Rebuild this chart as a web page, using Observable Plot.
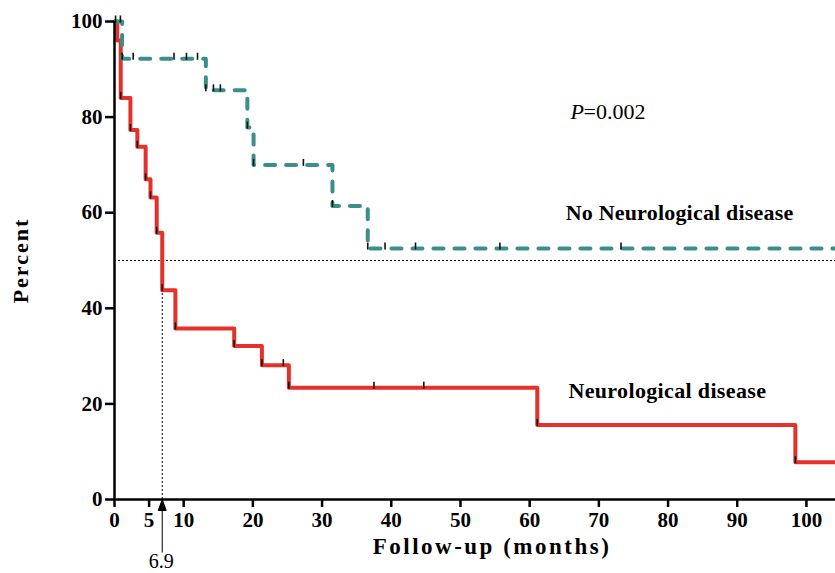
<!DOCTYPE html>
<html>
<head>
<meta charset="utf-8">
<script src="https://cdn.jsdelivr.net/npm/d3@7"></script>
<script src="https://cdn.jsdelivr.net/npm/@observablehq/plot@0.6"></script>
<style>
  html, body { margin: 0; padding: 0; background: #fff; }
</style>
</head>
<body>
<div id="chart"></div>
<script>
// ---- data ----
const neuroTimes = [0, 0.4, 0.9, 2.3, 3.3, 4.5, 5.2, 6.1, 6.9, 8.8, 17.3, 21.3, 25.2, 61.1, 98.4, 104.2];
const neuroSurv  = [100, 96, 84, 77.3, 73.8, 67.0, 63.2, 55.8, 43.8, 35.8, 32.1, 28.1, 23.4, 15.6, 7.8, 7.8];
const neuroCensor = [0.9, 2.3, 3.3, 4.5, 5.2, 6.1, 6.9, 8.8, 17.3, 21.3, 24.4, 25.2, 37.5, 44.7, 61.1, 98.4];

const noNeuroTimes = [0, 1.1, 13.2, 19.2, 20.1, 31.5, 36.6, 104.2];
const noNeuroSurv  = [100, 92.2, 85.6, 77.8, 70.0, 61.4, 52.5, 52.5];
const noNeuroCensor = [0.15, 0.85, 1.1, 2.7, 8.6, 10.4, 12.0, 13.2, 14.3, 15.3, 19.2, 20.1, 27.3, 31.5, 36.6, 39.1, 43.5, 55.7, 73.2];

const xTicks = [0, 5, 10, 20, 30, 40, 50, 60, 70, 80, 90, 100];
const yTicks = [0, 20, 40, 60, 80, 100];
const xDomainMax = 104.2;
const medianTime = 6.9;
const medianLevel = 50;
const pValue = "0.002";
const labelNo = "No Neurological disease";
const labelNeuro = "Neurological disease";
const xLabel = "Follow-up (months)";
const yLabel = "Percent";

// ---- build tables ----
const toRows = (times, surv) => times.map((t, i) => ({t, s: surv[i]}));
const survAt = (times, surv, t) => { let s = surv[0]; for (let i = 0; i < times.length; i++) if (times[i] <= t) s = surv[i]; return s; };
const neuro = toRows(neuroTimes, neuroSurv);
const noNeuro = toRows(noNeuroTimes, noNeuroSurv);
const censors = [
  ...neuroCensor.map(t => ({t, s: survAt(neuroTimes, neuroSurv, t)})),
  ...noNeuroCensor.map(t => ({t, s: survAt(noNeuroTimes, noNeuroSurv, t)}))
];

const tickSymbol = { draw(ctx, size) { const h = Math.sqrt(size / Math.PI); ctx.moveTo(0, 1); ctx.lineTo(0, -h); } };
const arrowSymbol = { draw(ctx, size) {
  ctx.moveTo(0, 53); ctx.lineTo(0, 0);
  ctx.moveTo(0, 0); ctx.lineTo(-4, 11); ctx.lineTo(4, 11); ctx.closePath();
} };

const red = "#e5312b";
const teal = "#3b8f8a";
const serif = "'Liberation Serif', 'Times New Roman', serif";

const chart = Plot.plot({
  width: 835,
  height: 573,
  marginLeft: 114,
  marginRight: 0,
  marginTop: 21,
  marginBottom: 74,
  style: {fontFamily: serif, fontSize: "20px", background: "#fff", color: "#000", overflow: "visible"},
  x: {domain: [0, xDomainMax]},
  y: {domain: [0, 100]},
  marks: [
    Plot.ruleY([medianLevel], {stroke: "#000", strokeWidth: 1, strokeDasharray: "2,2"}),
    Plot.ruleX([medianTime], {y1: 0, y2: medianLevel, stroke: "#000", strokeWidth: 1, strokeDasharray: "2,2"}),
    Plot.line(neuro, {x: "t", y: "s", curve: "step-after", stroke: red, strokeWidth: 4, strokeLinejoin: "round"}),
    Plot.line(noNeuro, {x: "t", y: "s", curve: "step-after", stroke: teal, strokeWidth: 4, strokeDasharray: "10,11", strokeLinecap: "round"}),
    Plot.dot(censors, {x: "t", y: "s", symbol: tickSymbol, r: 6, fill: "none", stroke: "#111", strokeWidth: 1.6}),
    Plot.axisX({ticks: xTicks, tickSize: 8, tickPadding: 5, fontSize: 21, fontWeight: "bold", strokeWidth: 2.5, label: null}),
    Plot.axisY({ticks: yTicks, tickSize: 9, tickPadding: 3, fontSize: 21, fontWeight: "bold", strokeWidth: 2.5, label: null}),
    Plot.ruleX([0], {stroke: "#000", strokeWidth: 2.5}),
    Plot.ruleY([0], {stroke: "#000", strokeWidth: 2.5}),
    Plot.dot([medianTime], {x: d => d, y: () => 0, symbol: arrowSymbol, r: 5, fill: "#000", stroke: "#000", strokeWidth: 1}),
    Plot.text([String(medianTime)], {x: () => medianTime, y: () => 0, dy: 62, dx: -1, fontSize: 20, fontWeight: "normal"}),
    Plot.text([xLabel], {frameAnchor: "bottom", textAnchor: "middle", dx: 17, dy: 54, fontSize: 23, fontWeight: "bold"}),
    Plot.text([yLabel], {frameAnchor: "left", textAnchor: "middle", dx: -94, rotate: -90, fontSize: 22, fontWeight: "bold"}),
    Plot.text([labelNo], {x: () => 65.2, y: () => 60, textAnchor: "start", fontSize: 22, fontWeight: "bold"}),
    Plot.text([labelNeuro], {x: () => 65.6, y: () => 22.8, textAnchor: "start", fontSize: 22, fontWeight: "bold"}),
    Plot.text(["P"], {x: () => 65.9, y: () => 81, textAnchor: "start", fontSize: 22, fontStyle: "italic"}),
    Plot.text(["=" + pValue], {x: () => 65.9, y: () => 81, dx: 13, textAnchor: "start", fontSize: 22})
  ]
});

// letter spacing for the wide, spaced labels of the reference
const spacing = new Map([[xLabel, "2.5px"], [yLabel, "2px"], [labelNo, "0.2px"], [labelNeuro, "0.35px"]]);
d3.select(chart).selectAll("text").each(function() {
  const s = spacing.get(this.textContent);
  if (s) this.setAttribute("letter-spacing", s);
});
document.getElementById("chart").appendChild(chart);
</script>
</body>
</html>
